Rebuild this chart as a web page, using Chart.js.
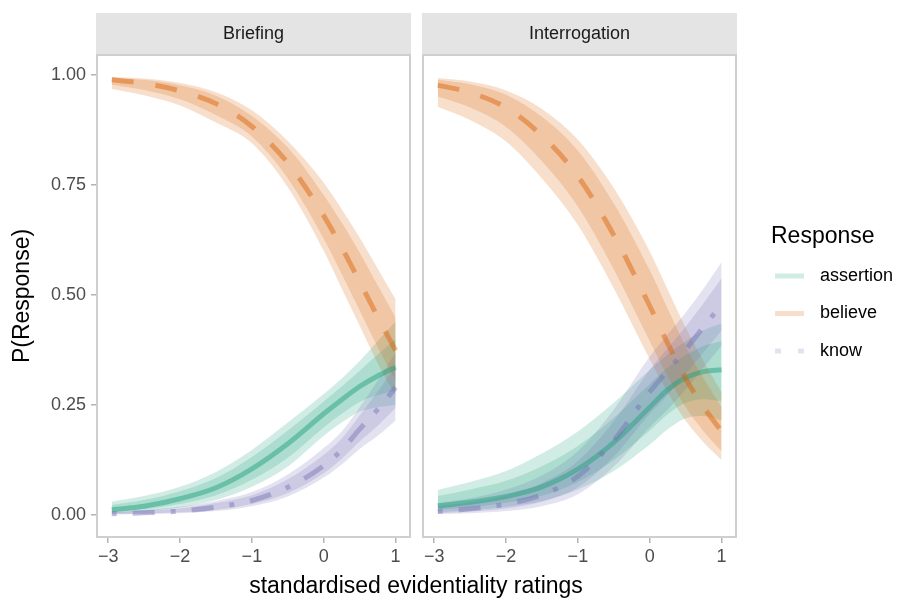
<!DOCTYPE html>
<html><head><meta charset="utf-8">
<script src="https://cdn.jsdelivr.net/npm/chart.js@4/dist/chart.umd.min.js"></script>
<style>
html,body{margin:0;padding:0;background:#fff;}
#wrap{position:relative;width:900px;height:601px;overflow:hidden;}
canvas{position:absolute;left:0;top:0;}
</style></head><body>
<div id="wrap"><canvas id="c1" width="900" height="601"></canvas><canvas id="c2" width="900" height="601"></canvas></div>
<script>
const panels = ["Briefing", "Interrogation"];
const responses = ["assertion", "believe", "know"];
const xVals = [-2.95, -2.5, -2, -1.5, -1, -0.5, 0, 0.25, 0.5, 0.75, 1];
const xTicks = [-3, -2, -1, 0, 1];
const yTicks = [0, 0.25, 0.5, 0.75, 1];

// Briefing
const briefAssertMean = [0.012,0.020,0.037,0.062,0.105,0.162,0.230,0.262,0.292,0.316,0.336];
const briefAssertLo95 = [0.004,0.008,0.017,0.034,0.064,0.110,0.180,0.210,0.235,0.245,0.250];
const briefAssertHi95 = [0.030,0.043,0.064,0.098,0.148,0.210,0.275,0.310,0.350,0.395,0.440];
const briefAssertLo80 = [0.007,0.013,0.025,0.045,0.080,0.130,0.199,0.230,0.257,0.272,0.283];
const briefAssertHi80 = [0.023,0.034,0.054,0.084,0.132,0.192,0.258,0.292,0.328,0.365,0.400];

const briefBelieveMean = [0.989,0.981,0.964,0.935,0.883,0.800,0.680,0.608,0.530,0.450,0.374];
const briefBelieveLo95 = [0.968,0.954,0.931,0.892,0.845,0.745,0.600,0.515,0.430,0.345,0.270];
const briefBelieveHi95 = [0.996,0.992,0.982,0.961,0.920,0.850,0.755,0.695,0.630,0.560,0.490];
const briefBelieveLo80 = [0.978,0.966,0.945,0.909,0.860,0.765,0.628,0.548,0.465,0.382,0.305];
const briefBelieveHi80 = [0.994,0.989,0.977,0.953,0.907,0.835,0.727,0.665,0.596,0.522,0.449];

const briefKnowMean = [0.003,0.005,0.009,0.018,0.033,0.063,0.112,0.148,0.195,0.240,0.290];
const briefKnowLo95 = [0.001,0.002,0.004,0.009,0.020,0.042,0.085,0.115,0.150,0.180,0.215];
const briefKnowHi95 = [0.008,0.012,0.019,0.032,0.052,0.092,0.152,0.190,0.245,0.305,0.370];
const briefKnowLo80 = [0.002,0.003,0.006,0.012,0.025,0.050,0.095,0.128,0.167,0.203,0.243];
const briefKnowHi80 = [0.006,0.009,0.015,0.027,0.045,0.081,0.137,0.174,0.226,0.280,0.339];

// Interrogation
const interAssertMean = [0.021,0.029,0.042,0.064,0.104,0.165,0.245,0.285,0.312,0.326,0.330];
const interAssertLo95 = [0.007,0.011,0.019,0.032,0.058,0.100,0.160,0.195,0.220,0.225,0.215];
const interAssertHi95 = [0.057,0.075,0.100,0.140,0.190,0.255,0.330,0.365,0.395,0.420,0.435];
const interAssertLo80 = [0.012,0.018,0.028,0.044,0.075,0.125,0.192,0.229,0.255,0.263,0.259];
const interAssertHi80 = [0.043,0.058,0.078,0.111,0.157,0.221,0.298,0.335,0.363,0.384,0.395];

const interBelieveMean = [0.977,0.960,0.926,0.862,0.770,0.636,0.475,0.390,0.310,0.245,0.190];
const interBelieveLo95 = [0.928,0.898,0.849,0.765,0.659,0.515,0.354,0.279,0.214,0.165,0.125];
const interBelieveHi95 = [0.993,0.985,0.965,0.923,0.853,0.743,0.599,0.512,0.426,0.349,0.279];
const interBelieveLo80 = [0.951,0.926,0.882,0.804,0.701,0.558,0.395,0.315,0.245,0.190,0.145];
const interBelieveHi80 = [0.989,0.979,0.955,0.905,0.828,0.708,0.556,0.469,0.383,0.310,0.245];

const interKnowMean = [0.008,0.014,0.025,0.046,0.088,0.170,0.280,0.328,0.376,0.428,0.478];
const interKnowLo95 = [0.002,0.004,0.009,0.020,0.047,0.110,0.200,0.240,0.285,0.335,0.385];
const interKnowHi95 = [0.027,0.038,0.058,0.090,0.145,0.240,0.360,0.410,0.460,0.515,0.575];
const interKnowLo80 = [0.004,0.008,0.015,0.030,0.063,0.133,0.230,0.273,0.320,0.370,0.420];
const interKnowHi80 = [0.020,0.029,0.045,0.073,0.123,0.213,0.330,0.379,0.428,0.482,0.538];

const colors = { assertion:[27,158,119], believe:[217,95,2], know:[117,112,179] };
const dashes = { assertion:[], believe:[22,22], know:[5,16,22,16] };
const legendDashes = { assertion:[], believe:[], know:[6,17] };
const FONT = "'Liberation Sans', Arial, Helvetica, sans-serif";

function rgba(c,a){ return `rgba(${c[0]},${c[1]},${c[2]},${a})`; }
const pts = arr => xVals.map((x,i)=>({x:x, y:arr[i]}));

function buildDatasets(series){
  const ds = [];
  const base = {pointRadius:0, pointHoverRadius:0, cubicInterpolationMode:'monotone', borderColor:'transparent', borderWidth:0};
  [['lo95','hi95'],['lo80','hi80']].forEach(([loK,hiK])=>{
    series.forEach(s=>{
      const loIdx = ds.length;
      ds.push(Object.assign({}, base, {label:s.name+' '+loK, data:pts(s[loK]), fill:false}));
      ds.push(Object.assign({}, base, {label:s.name+' '+hiK, data:pts(s[hiK]), fill:{target:loIdx}, backgroundColor:rgba(colors[s.name],0.2)}));
    });
  });
  series.forEach(s=>{
    ds.push(Object.assign({}, base, {label:s.name, data:pts(s.mean), fill:false,
      borderColor:rgba(colors[s.name],0.45), borderWidth:5, borderDash:dashes[s.name]}));
  });
  const n = ds.length;
  ds.forEach((d,i)=>{ d.order = n - i; });
  return ds;
}

const briefSeries = [
  {name:'assertion', mean:briefAssertMean, lo95:briefAssertLo95, hi95:briefAssertHi95, lo80:briefAssertLo80, hi80:briefAssertHi80},
  {name:'believe', mean:briefBelieveMean, lo95:briefBelieveLo95, hi95:briefBelieveHi95, lo80:briefBelieveLo80, hi80:briefBelieveHi80},
  {name:'know', mean:briefKnowMean, lo95:briefKnowLo95, hi95:briefKnowHi95, lo80:briefKnowLo80, hi80:briefKnowHi80}
];
const interSeries = [
  {name:'assertion', mean:interAssertMean, lo95:interAssertLo95, hi95:interAssertHi95, lo80:interAssertLo80, hi80:interAssertHi80},
  {name:'believe', mean:interBelieveMean, lo95:interBelieveLo95, hi95:interBelieveHi95, lo80:interBelieveLo80, hi80:interBelieveHi80},
  {name:'know', mean:interKnowMean, lo95:interKnowLo95, hi95:interKnowHi95, lo80:interKnowLo80, hi80:interKnowHi80}
];

const fmtX = v => v < 0 ? '\u2212' + Math.abs(v) : String(v);

const panelPlugin = {
  id:'panel',
  afterDatasetsDraw(chart){
    const {left,right,top,bottom} = chart.chartArea;
    const ctx = chart.ctx;
    ctx.save();
    ctx.strokeStyle = '#cfcfcf';
    ctx.lineWidth = 2;
    ctx.strokeRect(left, top, right-left, bottom-top);
    ctx.restore();
  },
  afterDraw(chart, args, opts){
    const {left,right,top} = chart.chartArea;
    const ctx = chart.ctx;
    ctx.save();
    ctx.fillStyle = '#e4e4e4';
    ctx.fillRect(left-1, 13, right-left+2, top-13-1);
    ctx.fillStyle = '#1a1a1a';
    ctx.font = `18px ${FONT}`;
    ctx.textAlign = 'center';
    ctx.textBaseline = 'middle';
    ctx.fillText(opts.title, (left+right)/2, 34);
    if (opts.yTitle){
      ctx.save();
      ctx.translate(23, (chart.chartArea.top + chart.chartArea.bottom)/2);
      ctx.rotate(-Math.PI/2);
      ctx.fillStyle = '#000';
      ctx.font = `23px ${FONT}`;
      ctx.fillText(opts.yTitle, 0, 0);
      ctx.restore();
    }
    if (opts.legend){
      ctx.fillStyle = '#000';
      ctx.font = `23px ${FONT}`;
      ctx.textAlign = 'center';
      ctx.fillText('standardised evidentiality ratings', 416, 587);
      ctx.textAlign = 'left';
      ctx.fillText('Response', 771, 237);
      ctx.font = `18px ${FONT}`;
      responses.forEach((r,i)=>{
        const y = 276 + i*37.5;
        ctx.save();
        ctx.strokeStyle = rgba(colors[r],0.2);
        ctx.lineWidth = 5;
        ctx.setLineDash(legendDashes[r]);
        ctx.beginPath();
        ctx.moveTo(775, y); ctx.lineTo(804, y);
        ctx.stroke();
        ctx.restore();
        ctx.fillStyle = '#000';
        ctx.fillText(r, 820, y);
      });
    }
    ctx.restore();
  }
};

function makeOptions(isFirst, padding, title){
  return {
    responsive:false, animation:false, devicePixelRatio:1,
    layout:{padding:padding},
    plugins:{
      legend:{display:false}, tooltip:{enabled:false},
      panel:{title:title, yTitle: isFirst ? 'P(Response)' : null, legend: !isFirst}
    },
    scales:{
      x:{type:'linear', min:-3.155, max:1.2,
        afterBuildTicks: sc => { sc.ticks = xTicks.map(v=>({value:v})); },
        afterFit: sc => { sc.height = 64; },
        grid:{drawOnChartArea:false, drawTicks:true, tickLength:6, color:'#b3b3b3', lineWidth:1.5},
        border:{display:false},
        ticks:{callback: v => fmtX(v), color:'#4d4d4d', font:{family:FONT, size:18}, padding:3, maxRotation:0, autoSkip:false}
      },
      y:{type:'linear', min:-0.05, max:1.0455, display:isFirst,
        afterBuildTicks: sc => { sc.ticks = yTicks.map(v=>({value:v})); },
        afterFit: sc => { sc.width = isFirst ? 97 : 0; },
        grid:{drawOnChartArea:false, drawTicks:true, tickLength:6, color:'#b3b3b3', lineWidth:1.5},
        border:{display:false},
        ticks:{callback: v => Number(v).toFixed(2), color:'#4d4d4d', font:{family:FONT, size:18}, padding:5, autoSkip:false}
      }
    }
  };
}

new Chart(document.getElementById('c1'), {
  type:'line',
  data:{datasets: buildDatasets(briefSeries)},
  options: makeOptions(true, {left:0, top:55, right:490, bottom:0}, panels[0]),
  plugins:[panelPlugin]
});
new Chart(document.getElementById('c2'), {
  type:'line',
  data:{datasets: buildDatasets(interSeries)},
  options: makeOptions(false, {left:423, top:55, right:164, bottom:0}, panels[1]),
  plugins:[panelPlugin]
});
</script>
</body></html>
